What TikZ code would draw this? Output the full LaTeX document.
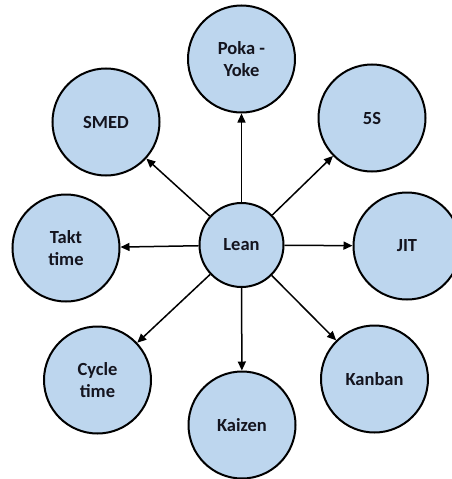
\documentclass[tikz,border=0pt]{standalone}
\usepackage{fontspec}
\setmainfont{Carlito}
\usetikzlibrary{arrows.meta}
\definecolor{bubblefill}{RGB}{189,214,238}
\definecolor{labelink}{RGB}{20,20,30}
\begin{document}
\begin{tikzpicture}[x=1pt,y=-1pt,
  bubble/.style={circle, draw=black, line width=2pt, fill=bubblefill,
    minimum size=107pt, inner sep=0pt, align=center, text=labelink,
    font=\fontsize{18.5}{21.5}\selectfont\bfseries},
  hub/.style={bubble, minimum size=84pt},
  link/.style={-{Triangle[length=9pt,width=8pt]}, line width=1.5pt}]
\useasboundingbox (0,0) rectangle (452,479);

% central concept
\node[hub] (lean) at (241.5,245) {Lean};

% surrounding tools
\node[bubble] (poka)   at (241.5,59)  {Poka -\\Yoke};
\node[bubble] (fives)  at (372,118)   {5S};
\node[bubble] (jit)    at (407,246)   {JIT};
\node[bubble] (kanban) at (374.5,379) {Kanban};
\node[bubble] (kaizen) at (242,425)   {Kaizen};
\node[bubble] (cycle)  at (97.5,380)  {Cycle\\time};
\node[bubble] (takt)   at (66,248)    {Takt\\time};
\node[bubble] (smed)   at (106,122)   {SMED};

% arrows from the hub
\foreach \t in {poka,fives,jit,kanban,kaizen,cycle,takt,smed}
  \draw[link] (lean) -- (\t);
\end{tikzpicture}
\end{document}
